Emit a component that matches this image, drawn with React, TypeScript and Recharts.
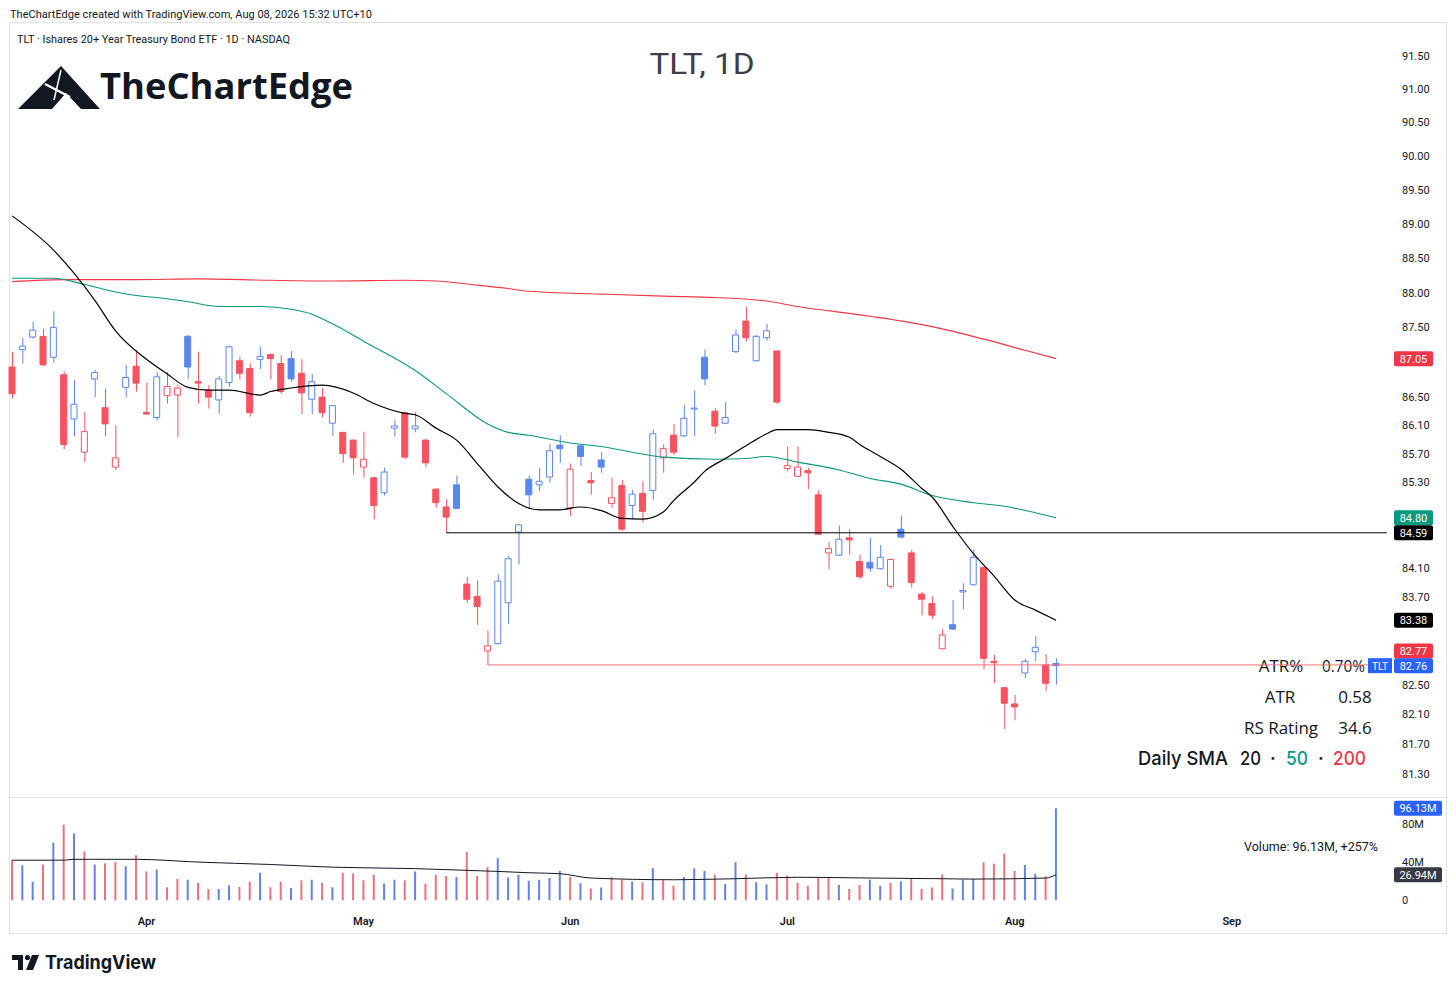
import React from 'react'
import { ComposedChart, Bar, Line, XAxis, YAxis, Cell, ReferenceLine } from 'recharts'

// TLT daily candles: first bar 2026-03-13, last bar 2026-08-07 (102 sessions)
const opens = [
  86.93, 87.18, 87.36, 87.37, 87.07, 86.82, 86.19, 85.72, 86.76, 86.35,
  85.51, 86.64, 86.94, 86.28, 86.21, 86.52, 86.53, 87.37, 86.72, 86.60,
  86.46, 86.71, 87.02, 86.91, 87.04, 87.11, 86.98, 87.05, 86.84, 86.47,
  86.50, 86.13, 86.00, 85.89, 85.51, 85.36, 85.15, 86.06, 86.28, 86.05,
  85.89, 85.20, 84.95, 85.26, 83.88, 83.71, 82.96, 83.06, 83.62, 84.60,
  85.34, 85.26, 85.37, 85.82, 84.94, 85.81, 85.32, 85.61, 85.00, 85.25,
  84.97, 85.14, 85.18, 85.64, 85.96, 85.95, 86.33, 87.07, 86.30, 86.13,
  87.15, 87.59, 87.02, 87.35, 87.16, 85.49, 85.38, 85.46, 85.12, 84.31,
  84.28, 84.52, 84.19, 84.18, 84.09, 83.85, 84.64, 84.31, 83.74, 83.61,
  82.99, 83.32, 83.77, 83.87, 84.11, 82.82, 82.46, 82.24, 82.66, 82.95,
  82.77, 82.79,
]
const highs = [
  87.15, 87.35, 87.58, 87.48, 87.73, 86.87, 86.74, 86.29, 86.89, 86.62,
  86.10, 86.96, 87.17, 86.71, 86.86, 86.86, 86.68, 87.39, 87.15, 86.67,
  86.80, 87.24, 87.08, 86.98, 87.22, 87.12, 87.10, 87.16, 87.04, 86.83,
  86.63, 86.39, 86.00, 85.90, 86.01, 85.37, 85.50, 86.18, 86.29, 86.29,
  85.91, 85.21, 85.06, 85.39, 83.98, 83.93, 83.24, 84.01, 84.27, 84.71,
  85.39, 85.50, 85.84, 85.96, 85.56, 85.82, 85.44, 85.72, 85.36, 85.33,
  85.19, 85.31, 86.04, 85.83, 86.12, 86.39, 86.60, 87.18, 86.34, 86.43,
  87.47, 87.80, 87.39, 87.55, 87.17, 85.80, 85.80, 85.50, 85.18, 84.46,
  84.69, 84.64, 84.29, 84.52, 84.42, 84.23, 84.83, 84.35, 83.77, 83.71,
  83.26, 83.66, 83.89, 84.36, 84.12, 82.91, 82.47, 82.36, 82.85, 83.16,
  82.92, 82.86,
]
const lows = [
  86.48, 86.98, 87.34, 86.95, 86.99, 85.76, 85.95, 85.58, 86.50, 85.95,
  85.47, 86.50, 86.58, 86.25, 86.17, 86.41, 85.93, 86.76, 86.41, 86.34,
  86.26, 86.65, 86.75, 86.22, 86.90, 86.75, 86.55, 86.72, 86.26, 86.26,
  86.21, 85.95, 85.57, 85.41, 85.36, 84.78, 85.11, 85.94, 85.62, 86.00,
  85.51, 84.94, 84.59, 84.92, 83.62, 83.32, 82.77, 83.05, 83.33, 84.15,
  84.92, 85.17, 85.29, 85.57, 84.82, 85.52, 85.12, 85.43, 84.94, 84.62,
  84.78, 84.73, 85.05, 85.43, 85.68, 85.94, 85.95, 86.67, 85.98, 86.12,
  87.13, 87.30, 87.01, 87.31, 86.40, 85.45, 85.37, 85.20, 84.56, 84.08,
  84.27, 84.29, 83.95, 84.05, 84.08, 83.81, 84.51, 83.83, 83.45, 83.40,
  82.98, 83.25, 83.53, 83.86, 82.71, 82.52, 81.90, 82.02, 82.59, 82.82,
  82.42, 82.50,
]
const closes = [
  86.55, 87.23, 87.46, 86.96, 87.50, 85.83, 86.40, 86.01, 86.85, 86.12,
  85.64, 86.78, 86.70, 86.26, 86.79, 86.65, 86.63, 86.93, 86.70, 86.50,
  86.76, 87.22, 86.84, 86.28, 87.08, 87.05, 86.58, 86.76, 86.56, 86.72,
  86.28, 86.38, 85.70, 85.64, 85.62, 84.97, 85.44, 86.09, 85.65, 86.09,
  85.57, 85.01, 84.81, 84.93, 83.67, 83.57, 83.03, 83.92, 84.23, 84.70,
  85.12, 85.31, 85.74, 85.77, 85.48, 85.66, 85.29, 85.51, 85.08, 84.64,
  85.13, 84.89, 85.98, 85.77, 85.72, 86.20, 86.34, 86.76, 86.09, 86.21,
  87.39, 87.35, 87.37, 87.45, 86.43, 85.53, 85.51, 85.43, 84.57, 84.37,
  84.50, 84.49, 83.98, 84.10, 84.25, 84.22, 84.53, 83.90, 83.67, 83.45,
  83.18, 83.26, 83.79, 84.25, 82.86, 82.80, 82.25, 82.20, 82.82, 83.01,
  82.52, 82.76,
]
// volume in millions
const volumes = [
  41.8, 36.8, 19.6, 37.5, 60.2, 78.8, 69.9, 51.2, 37.5, 38.9,
  40.0, 35.7, 47.2, 30.3, 32.4, 13.8, 22.4, 21.7, 18.4, 12.0,
  12.0, 16.0, 14.1, 19.6, 28.9, 13.8, 19.6, 13.1, 21.0, 21.7,
  18.4, 13.8, 28.9, 28.2, 21.0, 26.7, 17.7, 21.7, 21.0, 30.3,
  17.4, 26.7, 25.6, 24.6, 50.8, 25.6, 34.7, 44.0, 23.9, 26.7,
  20.5, 21.6, 23.4, 30.7, 24.6, 18.0, 12.5, 13.5, 24.2, 21.6,
  19.8, 19.0, 33.7, 21.6, 15.3, 24.6, 33.3, 30.7, 27.1, 17.2,
  39.9, 27.1, 19.0, 16.8, 28.9, 26.0, 18.6, 15.3, 23.4, 24.2,
  16.1, 12.0, 16.1, 21.6, 15.3, 18.6, 19.8, 23.1, 12.0, 13.5,
  27.1, 12.5, 21.6, 22.3, 39.9, 38.4, 49.0, 30.7, 37.0, 27.9,
  25.2, 96.13,
]

// moving averages at sample bars: [bar index, value]
const sma20 = [
  [0, 89.12], [4, 88.62], [6, 88.28], [8, 87.89], [10, 87.45], [13, 87.04], [15, 86.83],
  [17, 86.64], [19, 86.6], [21, 86.6], [24, 86.53], [25, 86.58], [27, 86.63], [30, 86.67],
  [33, 86.56], [35, 86.41], [38, 86.27], [39, 86.25], [41, 86.06], [43, 85.89], [45, 85.56],
  [47, 85.23], [49, 85.0], [51, 84.91], [53, 84.91], [55, 84.95], [57, 84.9], [59, 84.79],
  [61, 84.78], [63, 84.88], [64, 85.04], [66, 85.3], [67, 85.45], [69, 85.63], [71, 85.81],
  [73, 85.98], [74, 86.04], [77, 86.04], [79, 86.0], [81, 85.93], [82, 85.83], [84, 85.66],
  [86, 85.48], [88, 85.21], [89, 85.09], [91, 84.68], [93, 84.3], [95, 83.99], [97, 83.66],
  [99, 83.52], [101, 83.38],
]
const sma50 = [
  [0, 88.21], [4, 88.21], [7, 88.12], [10, 88.01], [12, 87.96], [14, 87.93], [17, 87.87],
  [20, 87.8], [24, 87.8], [27, 87.76], [29, 87.69], [31, 87.55], [34, 87.3], [39, 86.88],
  [42, 86.55], [46, 86.12], [48, 86.0], [50, 85.96], [54, 85.85], [57, 85.8], [60, 85.72],
  [63, 85.65], [68, 85.62], [71, 85.63], [73, 85.66], [76, 85.58], [80, 85.47], [83, 85.35],
  [86, 85.27], [89, 85.11], [93, 85.01], [96, 84.96], [99, 84.87], [101, 84.8],
]
const sma200 = [
  [0, 88.16], [5, 88.19], [12, 88.19], [18, 88.2], [25, 88.18], [31, 88.17], [38, 88.18],
  [41, 88.17], [45, 88.11], [48, 88.06], [50, 88.02], [57, 87.98], [63, 87.95], [68, 87.93],
  [73, 87.88], [76, 87.8], [83, 87.66], [89, 87.51], [94, 87.33], [98, 87.17], [101, 87.05],
]
const volAvg = [
  [0, 42.0], [5, 42.0], [6, 42.9], [12, 42.9], [18, 40.0], [25, 37.5], [31, 34.7], [39, 33.2],
  [44, 31.4], [47, 30.3], [50, 28.9], [53, 27.9], [56, 23.4], [64, 21.6], [70, 22.7], [76, 24.2],
  [83, 23.4], [90, 22.7], [93, 22.3], [100, 23.4], [101, 26.94],
]

const supportLevel = 84.59
const supportFrom = 42
const gapLevel = 82.77
const gapFrom = 46

const monthTicks = [13, 34, 54, 75, 97, 118]
const monthLabels = ['Apr', 'May', 'Jun', 'Jul', 'Aug', 'Sep']
const priceTicks = [91.5, 91, 90.5, 90, 89.5, 89, 88.5, 88, 87.5, 86.5, 86.1, 85.7, 85.3, 84.1, 83.7, 82.5, 82.1, 81.7, 81.3]
const volumeTicks = [0, 40, 80]
const SLOTS = 134 // trading bars incl. empty space on the right

const RED = '#f7525f'
const BLUE = '#5a86f0'
const VOL_RED = 'rgba(230, 80, 92, 0.8)'
const VOL_BLUE = 'rgba(60, 100, 220, 0.8)'

const rows: any[] = Array.from({ length: SLOTS }, (_, i) => {
  const row: any = { i }
  if (i < closes.length) {
    const o = opens[i]
    const c = closes[i]
    const prev = i > 0 ? closes[i - 1] : o
    row.wick = [lows[i], highs[i]]
    row.body = [Math.min(o, c), Math.max(o, c)]
    row.vol = volumes[i]
    row.up = c > prev
    row.hollow = c > o
  }
  return row
})
sma20.forEach(([i, v]) => (rows[i].sma20 = v))
sma50.forEach(([i, v]) => (rows[i].sma50 = v))
sma200.forEach(([i, v]) => (rows[i].sma200 = v))
volAvg.forEach(([i, v]) => (rows[i].volAvg = v))

function AxisTag(props: any) {
  const { viewBox, text, bg, dy = 0, w = 39, prefix } = props
  if (!viewBox) return null
  const x = viewBox.x + viewBox.width + 2
  const y = viewBox.y + dy
  return (
    <g>
      {prefix && (
        <g>
          <rect x={x - 26} y={y - 7.5} width={24} height={15} fill={bg} />
          <text x={x - 14} y={y + 0.5} textAnchor="middle" dominantBaseline="central" fill="#fff" fontSize={10}>
            {prefix}
          </text>
        </g>
      )}
      <rect x={x} y={y - 7.5} width={w} height={15} rx={2} fill={bg} />
      <text x={x + w / 2} y={y + 0.5} textAnchor="middle" dominantBaseline="central" fill="#fff" fontSize={11}>
        {text}
      </text>
    </g>
  )
}

function MonthTick({ x, y, payload }: any) {
  const k = monthTicks.indexOf(payload.value)
  return (
    <text x={x} y={y + 13} textAnchor="middle" dominantBaseline="central" fontSize={11} fontWeight={600} fill="#131722">
      {monthLabels[k]}
    </text>
  )
}

function Overlay() {
  return (
    <svg width={1456} height={989} style={{ position: 'absolute', left: 0, top: 0 }}>
      <text x={10} y={18} fontSize={11} fill="#131722" textLength={362} lengthAdjust="spacingAndGlyphs">
        TheChartEdge created with TradingView.com, Aug 08, 2026 15:32 UTC+10
      </text>
      <text x={17} y={43} fontSize={11} fill="#131722" textLength={273} lengthAdjust="spacingAndGlyphs">
        TLT · Ishares 20+ Year Treasury Bond ETF · 1D · NASDAQ
      </text>
      {/* logo */}
      <path d="M18 109 L61 66 L100 109 Z" fill="#131722" />
      <path d="M52 109 L66 93 L81 109 Z" fill="#fff" />
      <path d="M45 84 L70 97" stroke="#fff" strokeWidth={2.5} />
      <path d="M61 70 L54 100" stroke="#fff" strokeWidth={1.5} />
      <text x={100} y={99} fontSize={36} fontWeight={700} fontFamily="'Open Sans'" fill="#131722" textLength={253} lengthAdjust="spacingAndGlyphs">
        TheChartEdge
      </text>
      <text x={702} y={74} textAnchor="middle" fontSize={30} fill="#3a3e48" textLength={105} lengthAdjust="spacingAndGlyphs">
        TLT, 1D
      </text>
      {/* stats box */}
      <g fontFamily="'Open Sans'" fontSize={17} fill="#131722">
        <text x={1281} y={672} textAnchor="middle">ATR%</text>
        <text x={1322} y={672} textLength={43} lengthAdjust="spacingAndGlyphs">0.70%</text>
        <text x={1280} y={703} textAnchor="middle">ATR</text>
        <text x={1355} y={703} textAnchor="middle">0.58</text>
        <text x={1281} y={734} textAnchor="middle">RS Rating</text>
        <text x={1355} y={734} textAnchor="middle">34.6</text>
      </g>
      <g fontFamily="Inter" fontSize={19} fontWeight={500} fill="#131722">
        <text x={1138} y={765} textLength={90} lengthAdjust="spacingAndGlyphs">Daily SMA</text>
        <text x={1240} y={765} textLength={21} lengthAdjust="spacingAndGlyphs">20</text>
        <text x={1273} y={765} textAnchor="middle">·</text>
        <text x={1286} y={765} fill="#089981" textLength={22} lengthAdjust="spacingAndGlyphs">50</text>
        <text x={1321} y={765} textAnchor="middle">·</text>
        <text x={1333} y={765} fill="#f23645" textLength={33} lengthAdjust="spacingAndGlyphs">200</text>
      </g>
      <text x={1244} y={851} fontSize={12} fill="#131722" textLength={134} lengthAdjust="spacingAndGlyphs">
        Volume: 96.13M, +257%
      </text>
      {/* footer */}
      <path d="M12 955 H23 V970 H18 V960 H12 Z" fill="#131722" />
      <circle cx={27.5} cy={957.6} r={2.6} fill="#131722" />
      <path d="M32 955 H39 L33 970 H26 Z" fill="#131722" />
      <text x={45} y={969} fontSize={19} fontWeight={700} fontFamily="Inter" fill="#131722" textLength={111} lengthAdjust="spacingAndGlyphs">
        TradingView
      </text>
    </svg>
  )
}

export default function App() {
  const candleColor = (r: any) => (r.up ? BLUE : RED)
  return (
    <div style={{ position: 'absolute', left: 0, top: 0, width: 1456, height: 989, background: '#fff', fontFamily: 'Roboto, sans-serif', overflow: 'hidden' }}>
      <Overlay />
      <div style={{ position: 'absolute', left: 9, top: 22, width: 1436, height: 910, border: '1px solid #e0e3eb' }} />
      <div style={{ position: 'absolute', left: 10, top: 797, width: 1436, height: 1, background: '#e0e3eb' }} />

      {/* price pane */}
      <div style={{ position: 'absolute', left: 0, top: 22 }}>
        <ComposedChart width={1447} height={775} data={rows} margin={{ top: 0, right: 0, bottom: 0, left: 7 }}>
          <XAxis xAxisId="w" dataKey="i" hide />
          <XAxis xAxisId="b" dataKey="i" hide />
          <YAxis
            yAxisId="p"
            orientation="right"
            scale="log"
            domain={[80.99, 92.01]}
            allowDataOverflow
            ticks={priceTicks}
            tickFormatter={(v: number) => v.toFixed(2)}
            tick={{ fontSize: 11, fill: '#131722' }}
            tickMargin={4}
            axisLine={false}
            tickLine={false}
            width={55}
          />
          <Bar xAxisId="w" yAxisId="p" dataKey="wick" barSize={1} isAnimationActive={false}>
            {rows.map((r) => (
              <Cell key={r.i} fill={candleColor(r)} />
            ))}
          </Bar>
          <Bar xAxisId="b" yAxisId="p" dataKey="body" barSize={6} minPointSize={1} isAnimationActive={false}>
            {rows.map((r) => (
              <Cell key={r.i} fill={r.hollow ? '#ffffff' : candleColor(r)} stroke={candleColor(r)} strokeWidth={1} />
            ))}
          </Bar>
          <ReferenceLine
            xAxisId="w"
            yAxisId="p"
            segment={[{ x: supportFrom, y: supportLevel }, { x: SLOTS - 1, y: supportLevel }]}
            stroke="#000"
            strokeWidth={1}
            ifOverflow="visible"
          />
          <ReferenceLine
            xAxisId="w"
            yAxisId="p"
            segment={[{ x: gapFrom, y: gapLevel }, { x: SLOTS - 1, y: gapLevel }]}
            stroke="#f4707a"
            strokeWidth={1}
            ifOverflow="visible"
          />
          <Line xAxisId="w" yAxisId="p" dataKey="sma200" type="monotone" stroke="#f23645" strokeWidth={1.1} dot={false} activeDot={false} connectNulls isAnimationActive={false} />
          <Line xAxisId="w" yAxisId="p" dataKey="sma50" type="monotone" stroke="#089981" strokeWidth={1.1} dot={false} activeDot={false} connectNulls isAnimationActive={false} />
          <Line xAxisId="w" yAxisId="p" dataKey="sma20" type="monotone" stroke="#000000" strokeWidth={1.2} dot={false} activeDot={false} connectNulls isAnimationActive={false} />
          <ReferenceLine xAxisId="w" yAxisId="p" y={87.05} stroke="none" label={<AxisTag text="87.05" bg="#f23645" />} />
          <ReferenceLine xAxisId="w" yAxisId="p" y={84.8} stroke="none" label={<AxisTag text="84.80" bg="#089981" />} />
          <ReferenceLine xAxisId="w" yAxisId="p" y={84.59} stroke="none" label={<AxisTag text="84.59" bg="#000000" />} />
          <ReferenceLine xAxisId="w" yAxisId="p" y={83.38} stroke="none" label={<AxisTag text="83.38" bg="#000000" />} />
          <ReferenceLine xAxisId="w" yAxisId="p" y={82.77} stroke="none" label={<AxisTag text="82.77" bg="#f23645" dy={-14} />} />
          <ReferenceLine xAxisId="w" yAxisId="p" y={82.76} stroke="none" label={<AxisTag text="82.76" bg="#2962ff" prefix="TLT" />} />
        </ComposedChart>
      </div>

      {/* volume pane + time axis */}
      <div style={{ position: 'absolute', left: 0, top: 797 }}>
        <ComposedChart width={1447} height={137} data={rows} margin={{ top: 0, right: 0, bottom: 0, left: 7 }}>
          <XAxis
            dataKey="i"
            ticks={monthTicks}
            interval={0}
            tick={<MonthTick />}
            axisLine={false}
            tickLine={false}
            height={33.5}
          />
          <YAxis
            orientation="right"
            domain={[0, 107.8]}
            allowDataOverflow
            ticks={volumeTicks}
            tickFormatter={(v: number) => (v === 0 ? '0' : `${v}M`)}
            tick={{ fontSize: 11, fill: '#131722' }}
            tickMargin={4}
            axisLine={false}
            tickLine={false}
            width={55}
          />
          <Bar dataKey="vol" barSize={2} isAnimationActive={false}>
            {rows.map((r) => (
              <Cell key={r.i} fill={r.up ? VOL_BLUE : VOL_RED} />
            ))}
          </Bar>
          <Line dataKey="volAvg" type="monotone" stroke="#131722" strokeWidth={1} dot={false} activeDot={false} connectNulls isAnimationActive={false} />
          <ReferenceLine y={96.13} stroke="none" label={<AxisTag text="96.13M" bg="#2962ff" w={48} />} />
          <ReferenceLine y={26.94} stroke="none" label={<AxisTag text="26.94M" bg="#363a45" w={48} />} />
        </ComposedChart>
      </div>
    </div>
  )
}
